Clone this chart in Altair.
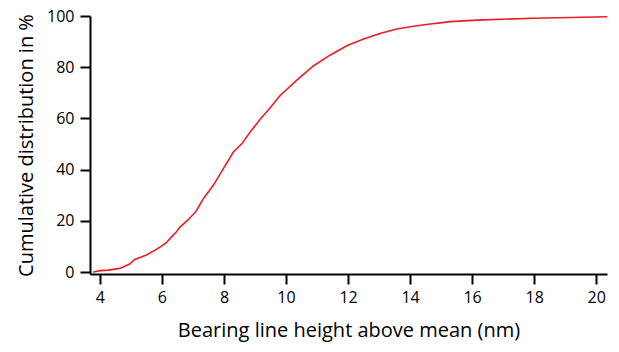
import altair as alt
import pandas as pd

height_nm = [3.78, 3.83, 4.0, 4.26, 4.64, 4.96, 5.12, 5.5, 5.82, 6.03, 6.14, 6.31, 6.47, 6.58,
             6.84, 7.1, 7.34, 7.66, 7.99, 8.31, 8.58, 8.84, 9.16, 9.49, 9.81,
             10.35, 10.89, 11.42, 11.96, 12.5, 13.03, 13.57, 14.11, 14.65, 14.97,
             15.3, 16.15, 17.98, 20.35]
cum_pct = [0.0, 0.2, 0.6, 0.8, 1.5, 3.2, 5.0, 6.7, 8.9, 10.6, 11.5, 13.8, 15.8, 17.6,
           20.4, 23.8, 28.8, 34.0, 40.6, 47.0, 50.2, 54.6, 59.6, 64.2, 69.0,
           75.0, 80.6, 84.7, 88.4, 91.0, 93.2, 94.9, 96.0, 96.9, 97.3,
           97.8, 98.4, 99.1, 99.7]

df = pd.DataFrame({"x": height_nm, "y": cum_pct})

FONT = "Open Sans"

chart = alt.Chart(df).mark_line(color="#ed1c24", strokeWidth=1.6).encode(
    x=alt.X("x:Q", scale=alt.Scale(domain=[3.68, 20.35], nice=False, zero=False),
            axis=alt.Axis(title="Bearing line height above mean (nm)",
                          values=[4, 6, 8, 10, 12, 14, 16, 18, 20],
                          grid=False, tickSize=10, labelPadding=5,
                          titlePadding=15)),
    y=alt.Y("y:Q", scale=alt.Scale(domain=[-0.7, 100], nice=False, zero=False),
            axis=alt.Axis(title="Cumulative distribution in %",
                          values=[0, 20, 40, 60, 80, 100],
                          grid=False, tickSize=10, labelPadding=6,
                          titlePadding=10)),
).properties(
    width=517, height=258,
    autosize=alt.AutoSizeParams(type="none"),
    padding={"left": 90, "top": 16, "right": 12, "bottom": 78},
).configure_view(stroke=None).configure_axis(
    domainColor="black", domainWidth=2, tickColor="black", tickWidth=2,
    labelFont=FONT, labelFontSize=16, labelColor="black",
    titleFont=FONT, titleFontSize=20, titleFontWeight="normal", titleColor="black",
)

chart.save("out.html", embed_options={"renderer": "svg", "actions": False})
